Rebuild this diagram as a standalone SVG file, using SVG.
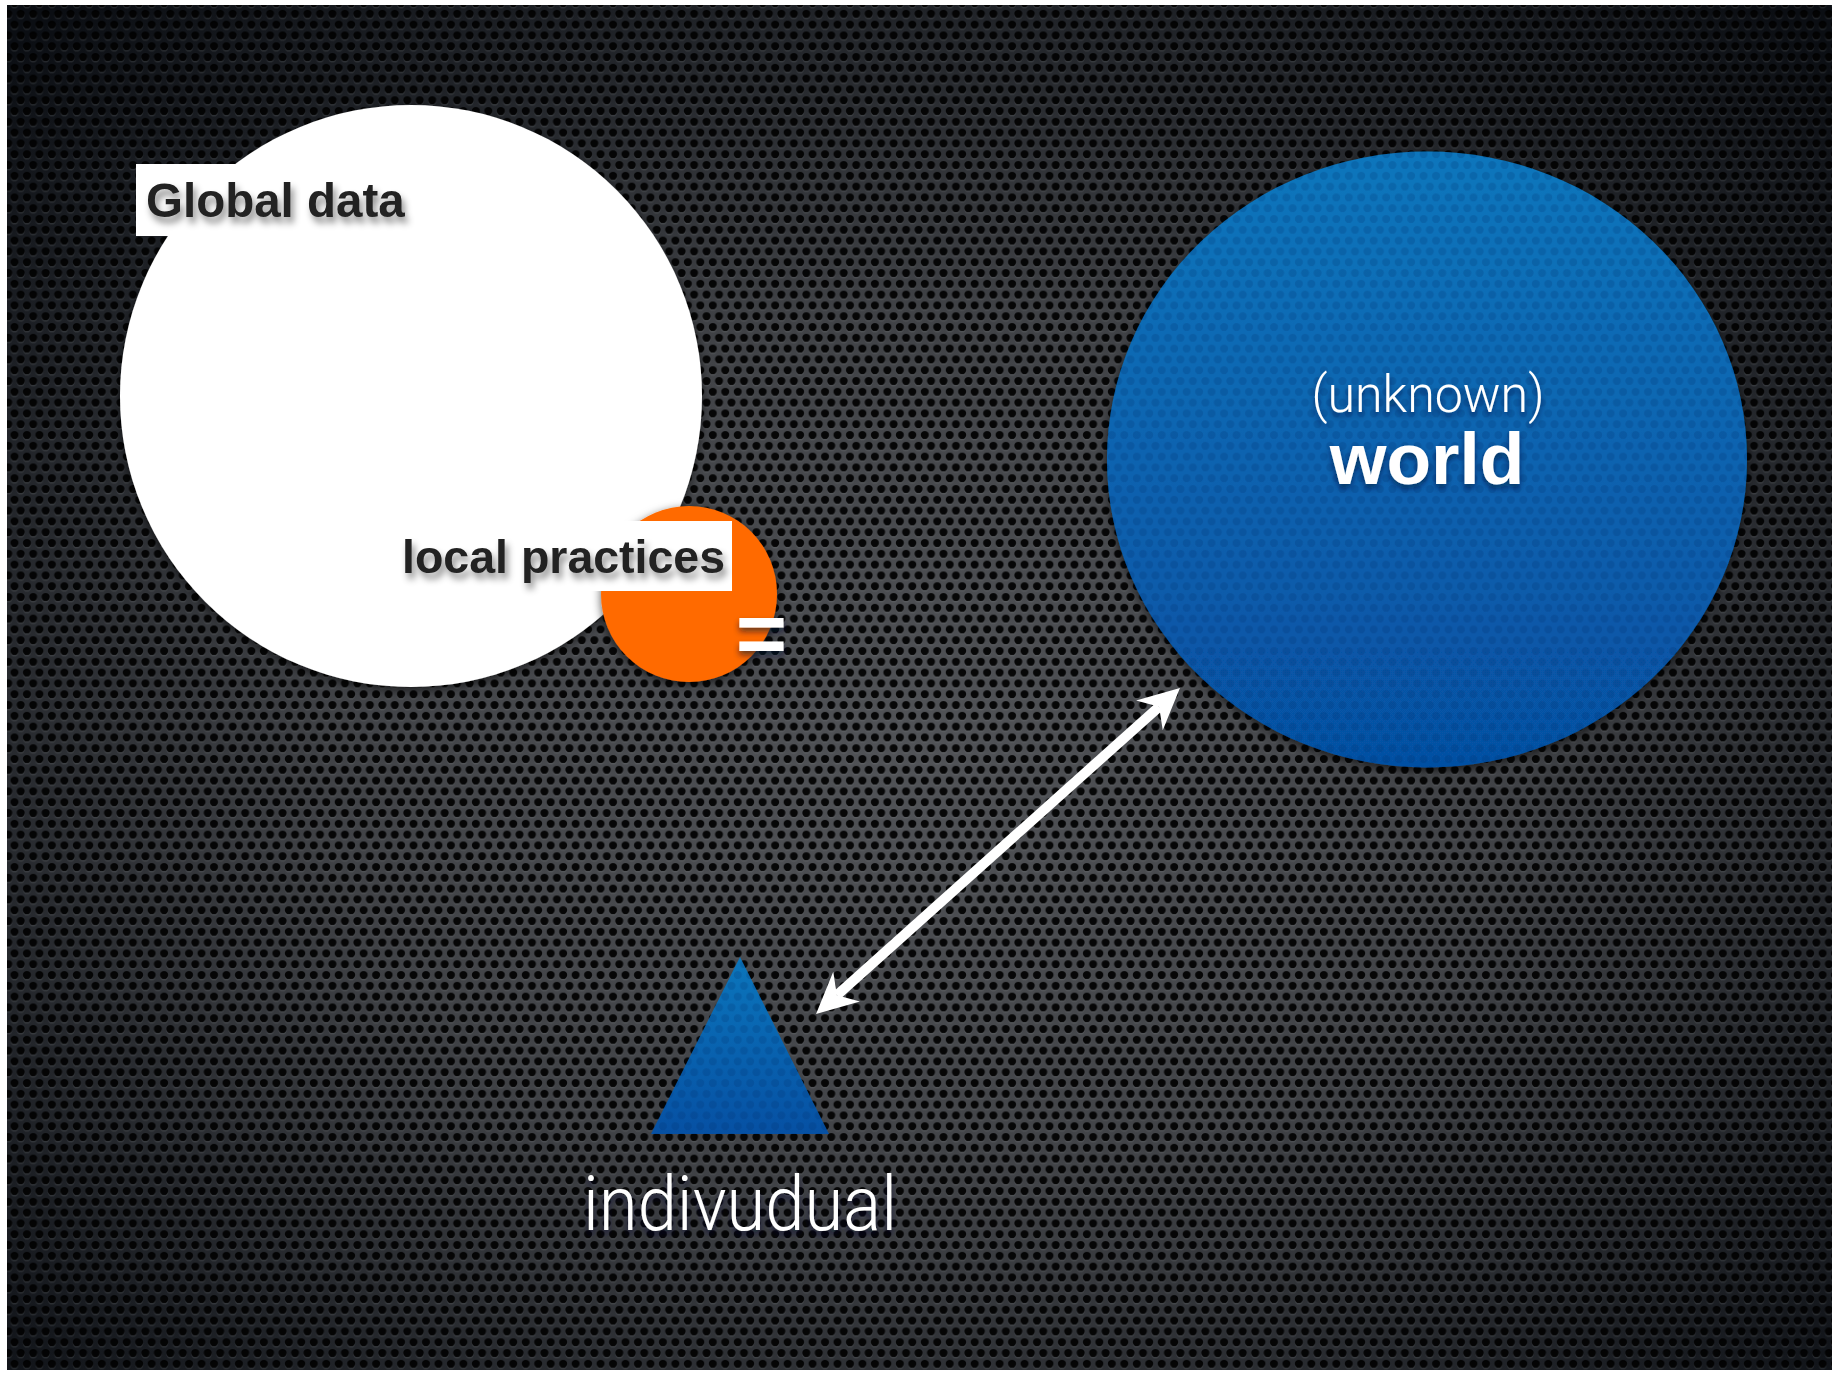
<svg xmlns="http://www.w3.org/2000/svg" width="1832" height="1373" viewBox="0 0 1832 1373">
  <defs>
    <style>
      .label-box { fill: #ffffff; }
      .label-dark { font-family: "Liberation Sans", Arial, sans-serif; font-weight: bold; fill: #232323; filter: url(#darkTextShadow); }
      .label-light { font-family: "Roboto", "Liberation Sans", sans-serif; font-weight: 300; fill: #ffffff; filter: url(#lightTextShadow); }
      .label-bold-white { font-family: "Liberation Sans", Arial, sans-serif; font-weight: bold; fill: #ffffff; filter: url(#lightTextShadow); }
      .connector { stroke: #ffffff; stroke-width: 10; fill: none; }
    </style>

    <!-- backdrop vignette -->
    <radialGradient id="bgGrad" cx="50%" cy="55%" r="72%">
      <stop offset="0" stop-color="#515357"/>
      <stop offset="0.45" stop-color="#404246"/>
      <stop offset="0.8" stop-color="#1c1f24"/>
      <stop offset="1" stop-color="#0b0e13"/>
    </radialGradient>

    <!-- perforated metal holes, hex grid -->
    <pattern id="holes" patternUnits="userSpaceOnUse" x="2" y="3" width="12.47" height="21.6">
      <g fill="#9a9da2" opacity="0.16">
        <circle cx="0" cy="1.5" r="4"/>
        <circle cx="12.47" cy="1.5" r="4"/>
        <circle cx="0" cy="23.1" r="4"/>
        <circle cx="12.47" cy="23.1" r="4"/>
        <circle cx="6.235" cy="12.3" r="4"/>
      </g>
      <g fill="#000000" opacity="0.93">
        <circle cx="0" cy="0" r="4"/>
        <circle cx="12.47" cy="0" r="4"/>
        <circle cx="0" cy="21.6" r="4"/>
        <circle cx="12.47" cy="21.6" r="4"/>
        <circle cx="6.235" cy="10.8" r="4"/>
      </g>
    </pattern>

    <!-- faint holes showing through blue shapes -->
    <pattern id="holesFaint" patternUnits="userSpaceOnUse" x="2" y="3" width="12.47" height="21.6">
      <g fill="#002a66" opacity="0.2">
        <circle cx="0" cy="0" r="4"/>
        <circle cx="12.47" cy="0" r="4"/>
        <circle cx="0" cy="21.6" r="4"/>
        <circle cx="12.47" cy="21.6" r="4"/>
        <circle cx="6.235" cy="10.8" r="4"/>
      </g>
    </pattern>

    <linearGradient id="blueGrad" x1="0" y1="0" x2="0" y2="1">
      <stop offset="0" stop-color="#0b76bc"/>
      <stop offset="1" stop-color="#0650a3"/>
    </linearGradient>

    <filter id="shapeShadow" x="-10%" y="-10%" width="120%" height="125%">
      <feDropShadow dx="0" dy="3" stdDeviation="5" flood-color="#000000" flood-opacity="0.65"/>
    </filter>
    <filter id="darkTextShadow" x="-5%" y="-20%" width="115%" height="160%">
      <feDropShadow dx="3" dy="6" stdDeviation="3.5" flood-color="#000000" flood-opacity="0.45"/>
    </filter>
    <filter id="lightTextShadow" x="-5%" y="-20%" width="115%" height="160%">
      <feDropShadow dx="0" dy="4" stdDeviation="3" flood-color="#001030" flood-opacity="0.6"/>
    </filter>

    <marker id="arrowHead" viewBox="-42 -22 44 44" refX="-28" refY="0" markerWidth="44" markerHeight="44" markerUnits="userSpaceOnUse" orient="auto-start-reverse">
      <path d="M0,0 L-41,-20 L-28,0 L-41,20 Z" fill="#ffffff"/>
    </marker>
  </defs>

  <!-- page frame -->
  <rect x="0" y="0" width="1832" height="1373" fill="#ffffff"/>
  <rect x="7" y="5" width="1825" height="1365" fill="url(#bgGrad)"/>
  <rect x="7" y="5" width="1825" height="1365" fill="url(#holes)"/>

  <!-- global data -->
  <g id="global-data">
    <circle cx="411" cy="396" r="291" fill="#ffffff" filter="url(#shapeShadow)"/>
    <rect class="label-box" x="136" y="164" width="271" height="72"/>
    <text class="label-dark" x="146" y="217" font-size="47.5">Global data</text>
  </g>

  <!-- local practices -->
  <g id="local-practices">
    <circle cx="689" cy="594" r="88" fill="#ff6a00" filter="url(#shapeShadow)"/>
    <rect class="label-box" x="392" y="521" width="340" height="70"/>
    <text class="label-dark" x="402" y="573" font-size="46.5">local practices</text>
  </g>

  <!-- equals sign -->
  <g id="equals">
    <text x="761.5" y="663" font-size="88" text-anchor="middle" font-family="'Liberation Sans', Arial, sans-serif" font-weight="bold" fill="#ffffff" filter="url(#lightTextShadow)">=</text>
  </g>

  <!-- world -->
  <g id="world">
    <ellipse cx="1427" cy="459.5" rx="320" ry="308" fill="url(#blueGrad)" filter="url(#shapeShadow)"/>
    <ellipse cx="1427" cy="459.5" rx="320" ry="308" fill="url(#holesFaint)"/>
    <text class="label-light" x="1428" y="412" font-size="52" text-anchor="middle" textLength="233" lengthAdjust="spacingAndGlyphs">(unknown)</text>
    <text class="label-bold-white" x="1427" y="484" font-size="73" text-anchor="middle">world</text>
  </g>

  <!-- individual -->
  <g id="individual">
    <polygon points="740,957 829,1134 651,1134" fill="url(#blueGrad)"/>
    <polygon points="740,957 829,1134 651,1134" fill="url(#holesFaint)"/>
    <text class="label-light" x="740" y="1230" font-size="76" text-anchor="middle" textLength="314" lengthAdjust="spacingAndGlyphs">indivudual</text>
  </g>

  <!-- connectors -->
  <g id="connectors">
    <line class="connector" x1="836.9" y1="995.3" x2="1159.1" y2="706.7" marker-start="url(#arrowHead)" marker-end="url(#arrowHead)"/>
  </g>
</svg>
